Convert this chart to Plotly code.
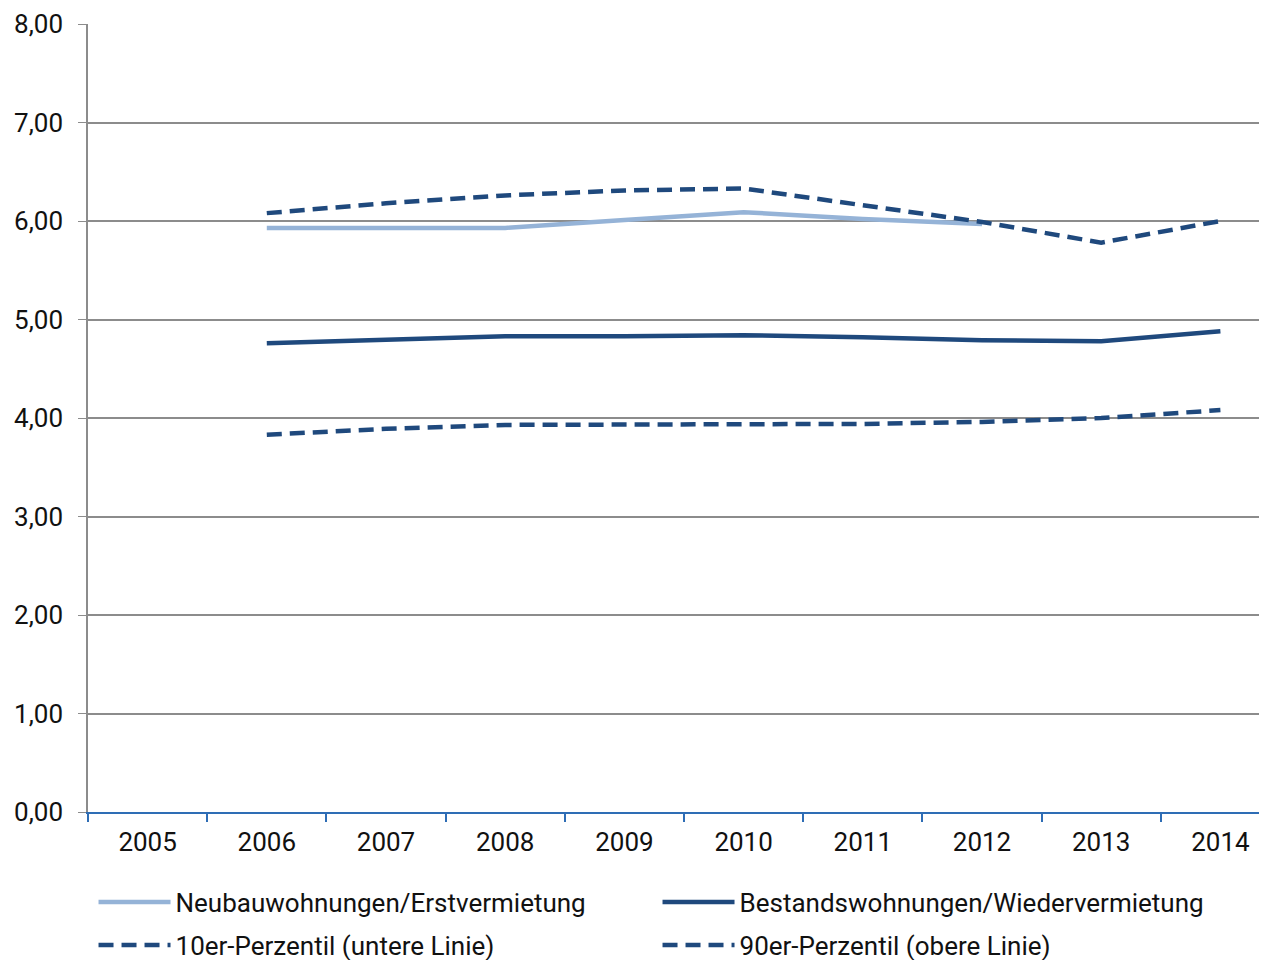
import plotly.graph_objects as go

years = ["2005", "2006", "2007", "2008", "2009", "2010", "2011", "2012", "2013", "2014"]
neubau = [None, 5.93, 5.93, 5.93, 6.01, 6.09, 6.02, 5.97, None, None]
bestand = [None, 4.76, 4.79, 4.83, 4.83, 4.84, 4.82, 4.79, 4.78, 4.88]
p10 = [None, 3.83, 3.89, 3.93, 3.93, 3.93, 3.94, 3.96, 4.00, 4.08]
p90 = [None, 6.08, 6.18, 6.26, 6.31, 6.33, 6.16, 5.99, 5.78, 6.00]
y_ticks = [0, 1, 2, 3, 4, 5, 6, 7, 8]

light = "#95B3D7"
dark = "#1F497D"
dash = "15px,8px"
FONT = "Roboto"
FS = 26

fig = go.Figure()
fig.add_trace(go.Scatter(x=years, y=neubau, mode="lines", name="Neubauwohnungen/Erstvermietung",
                         line=dict(color=light, width=4.5), legend="legend"))
fig.add_trace(go.Scatter(x=years, y=bestand, mode="lines", name="Bestandswohnungen/Wiedervermietung",
                         line=dict(color=dark, width=4.5), legend="legend"))
fig.add_trace(go.Scatter(x=years, y=p10, mode="lines", name="10er-Perzentil (untere Linie)",
                         line=dict(color=dark, width=4.5, dash=dash), legend="legend2"))
fig.add_trace(go.Scatter(x=years, y=p90, mode="lines", name="90er-Perzentil (obere Linie)",
                         line=dict(color=dark, width=4.5, dash=dash), legend="legend2"))

leg_common = dict(orientation="h", xref="container", yref="container",
                  x=0.0675, xanchor="left", yanchor="middle",
                  entrywidth=477, entrywidthmode="pixels", itemwidth=72,
                  font=dict(family=FONT, size=FS, color="#111111"),
                  bgcolor="rgba(0,0,0,0)", traceorder="normal")

fig.update_layout(
    width=1267, height=960,
    margin=dict(l=80, r=0, t=16, b=156),
    paper_bgcolor="white", plot_bgcolor="white",
    font=dict(family=FONT, size=FS, color="#111111"),
    separators=",.",
    showlegend=True,
    legend=dict(leg_common, y=1 - 894 / 960),
    legend2=dict(leg_common, y=1 - 937 / 960),
    xaxis=dict(type="category", categoryorder="array", categoryarray=years,
               range=[-0.5, 9.458], showgrid=False, tickson="boundaries",
               ticks="outside", ticklen=8, tickcolor="#2E6DB5", tickwidth=1.5,
               showline=True, linecolor="#2E6DB5", linewidth=2, zeroline=False,
               automargin=False, ticklabelstandoff=6, tickfont=dict(size=FS)),
    yaxis=dict(range=[0, 8], tickvals=y_ticks, tickformat=".2f",
               showgrid=True, gridcolor="#8C8C8C", gridwidth=1.5,
               ticks="outside", ticklen=8, tickcolor="#8C8C8C",
               showline=True, linecolor="#8C8C8C", linewidth=1.5,
               zeroline=False, automargin=False, ticklabelstandoff=10,
               ticklabeloverflow="allow", tickfont=dict(size=FS)),
)

fig.write_html("out.html")
